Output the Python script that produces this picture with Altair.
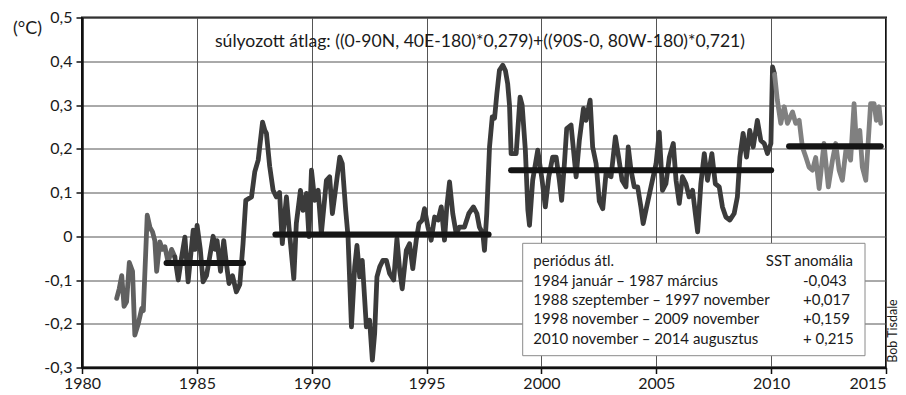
import altair as alt
import pandas as pd

# ---- data ----
years = [
    1981.51, 1981.62, 1981.73, 1981.83, 1981.94, 1982.06, 1982.2, 1982.3, 1982.45, 1982.6,
    1982.67, 1982.84, 1982.96, 1983.07, 1983.17, 1983.25, 1983.39, 1983.5, 1983.61, 1983.75,
    1983.9, 1984.04, 1984.19, 1984.33, 1984.48, 1984.62, 1984.84, 1984.93, 1985.01, 1985.15,
    1985.27, 1985.42, 1985.55, 1985.71, 1985.8, 1985.88, 1986.03, 1986.17, 1986.28, 1986.4,
    1986.55, 1986.72, 1986.87, 1987.01, 1987.13, 1987.38, 1987.52, 1987.67, 1987.86, 1987.96,
    1988.03, 1988.17, 1988.32, 1988.46, 1988.6, 1988.72, 1988.83, 1988.9, 1989.01, 1989.22,
    1989.33, 1989.51, 1989.62, 1989.77, 1989.88, 1989.99, 1990.13, 1990.28, 1990.42, 1990.64,
    1990.78, 1990.9, 1991.07, 1991.22, 1991.33, 1991.48, 1991.58, 1991.73, 1991.87, 1991.97,
    1992.09, 1992.2, 1992.38, 1992.52, 1992.64, 1992.74, 1992.84, 1992.96, 1993.1, 1993.25,
    1993.39, 1993.57, 1993.71, 1993.83, 1993.94, 1994.12, 1994.26, 1994.4, 1994.55, 1994.67,
    1994.81, 1994.91, 1995.06, 1995.2, 1995.35, 1995.5, 1995.64, 1995.78, 1995.88, 1996.0,
    1996.14, 1996.29, 1996.43, 1996.65, 1996.84, 1997.04, 1997.19, 1997.3, 1997.45, 1997.52,
    1997.62, 1997.74, 1997.86, 1997.96, 1998.06, 1998.17, 1998.32, 1998.43, 1998.53, 1998.61,
    1998.68, 1998.9, 1999.07, 1999.16, 1999.3, 1999.41, 1999.48, 1999.62, 1999.84, 2000.03,
    2000.17, 2000.32, 2000.49, 2000.64, 2000.78, 2000.88, 2001.0, 2001.1, 2001.29, 2001.51,
    2001.65, 2001.83, 2001.94, 2002.12, 2002.23, 2002.38, 2002.52, 2002.67, 2002.81, 2003.03,
    2003.22, 2003.36, 2003.51, 2003.68, 2003.78, 2003.9, 2004.04, 2004.19, 2004.33, 2004.43,
    2004.58, 2004.77, 2004.99, 2005.13, 2005.27, 2005.42, 2005.57, 2005.74, 2005.86, 2006.0,
    2006.14, 2006.29, 2006.43, 2006.58, 2006.7, 2006.8, 2006.94, 2007.09, 2007.23, 2007.42,
    2007.57, 2007.74, 2007.88, 2008.03, 2008.2, 2008.39, 2008.53, 2008.64, 2008.78, 2008.93,
    2009.07, 2009.22, 2009.4, 2009.55, 2009.7, 2009.84, 2009.99, 2010.06, 2010.15, 2010.27,
    2010.42, 2010.57, 2010.71, 2010.93, 2011.07, 2011.22, 2011.36, 2011.51, 2011.65, 2011.8,
    2011.94, 2012.09, 2012.3, 2012.49, 2012.67, 2012.81, 2012.96, 2013.1, 2013.27, 2013.46,
    2013.61, 2013.72, 2013.86, 2013.97, 2014.12, 2014.23, 2014.33, 2014.48, 2014.58, 2014.7,
    2014.77,
]
anomaly = [
    -0.142, -0.12, -0.09, -0.16, -0.15, -0.06, -0.08, -0.226, -0.2, -0.165,
    -0.17, 0.048, 0.02, 0.01, -0.01, -0.08, -0.013, -0.03, -0.024, -0.06,
    -0.03, -0.047, -0.1, -0.05, -0.002, -0.104, 0.014, -0.03, 0.025, -0.03,
    -0.104, -0.09, -0.05, 0.0, -0.03, -0.01, -0.08, -0.01, -0.06, -0.108,
    -0.09, -0.127, -0.11, -0.017, 0.082, 0.09, 0.147, 0.174, 0.261, 0.242,
    0.235, 0.16, 0.105, 0.09, 0.1, -0.017, 0.052, 0.09, 0.021, -0.097,
    0.029, 0.105, 0.059, 0.098, -0.001, 0.151, 0.082, 0.105, 0.006, 0.128,
    0.136, 0.052, 0.12, 0.181, 0.166, 0.059, 0.0, -0.207, -0.07, -0.021,
    -0.093, -0.055, -0.207, -0.192, -0.283, -0.222, -0.093, -0.07, -0.055, -0.055,
    -0.085, -0.1, -0.005, -0.078, -0.12, -0.032, -0.017, -0.074, -0.009, 0.029,
    0.037, 0.063, 0.021, -0.009, 0.044, 0.037, 0.067, -0.009, 0.067, 0.124,
    0.052, 0.006, 0.021, 0.021, 0.052, 0.067, 0.052, 0.021, 0.006, -0.032,
    0.052, 0.204, 0.273, 0.27, 0.326, 0.379, 0.391, 0.379, 0.349, 0.3,
    0.189, 0.189, 0.318, 0.3, 0.197, 0.06, 0.025, 0.128, 0.197, 0.128,
    0.067, 0.136, 0.181, 0.181, 0.128, 0.082, 0.166, 0.246, 0.254, 0.136,
    0.219, 0.292, 0.265, 0.311, 0.204, 0.166, 0.08, 0.063, 0.143, 0.136,
    0.227, 0.181, 0.128, 0.113, 0.204, 0.151, 0.113, 0.113, 0.067, 0.029,
    0.067, 0.113, 0.166, 0.238, 0.105, 0.12, 0.181, 0.212, 0.128, 0.075,
    0.136, 0.12, 0.09, 0.105, 0.052, 0.01, 0.12, 0.189, 0.128, 0.189,
    0.12, 0.113, 0.067, 0.044, 0.037, 0.052, 0.09, 0.181, 0.235, 0.181,
    0.242, 0.204, 0.265, 0.219, 0.212, 0.189, 0.212, 0.387, 0.37, 0.311,
    0.258, 0.296, 0.258, 0.284, 0.258, 0.265, 0.204, 0.181, 0.158, 0.151,
    0.18, 0.109, 0.212, 0.113, 0.174, 0.212, 0.151, 0.128, 0.204, 0.174,
    0.303, 0.204, 0.242, 0.158, 0.128, 0.219, 0.303, 0.303, 0.265, 0.296,
    0.258,
]

# colour segments of the series (start, end, colour)
seg_names = ["early", "main", "late"]
seg_from = [1981.0, 1984.04, 2010.15]
seg_to = [1984.04, 2010.15, 2015.0]
seg_colors = ["#606060", "#3b3b3b", "#808080"]

# period averages (as drawn)
per_start = [1983.68, 1988.42, 1998.68, 2010.78]
per_end = [1987.01, 1997.70, 2010.0, 2014.77]
per_value = [-0.061, 0.004, 0.151, 0.206]

x_ticks = [1980, 1985, 1990, 1995, 2000, 2005, 2010, 2015]
y_ticks = [-0.3, -0.2, -0.1, 0.0, 0.1, 0.2, 0.3, 0.4, 0.5]

title_text = "súlyozott átlag: ((0-90N, 40E-180)*0,279)+((90S-0, 80W-180)*0,721)"
unit_text = "(°C)"
credit_text = "Bob Tisdale"
legend_left = [
    "periódus átl.",
    "1984 január – 1987 március",
    "1988 szeptember – 1997 november",
    "1998 november – 2009 november",
    "2010 november – 2014 augusztus",
]
legend_right = ["SST anomália", "-0,043", "+0,017", "+0,159", "+ 0,215"]

# ---- build tables ----
rows = []
for t, v in zip(years, anomaly):
    for name, a, b in zip(seg_names, seg_from, seg_to):
        if a <= t <= b:
            rows.append({"t": t, "v": v, "seg": name})
series = pd.DataFrame(rows)
periods = pd.DataFrame({"s": per_start, "e": per_end, "v": per_value})

W, H = 804, 350
FONT = "Lato"
TXT = "#1a1a1a"

xscale = alt.Scale(domain=[1980, 2015], nice=False, zero=False)
yscale = alt.Scale(domain=[-0.3, 0.5], nice=False, zero=False)

xaxis = alt.Axis(
    values=x_ticks, format="d", title=None, grid=True,
    gridColor="#555555", gridWidth=1,
    tickColor="#111111", tickSize=6, tickWidth=1.5,
    domainColor="#111111", domainWidth=2.5,
    labelFont=FONT, labelFontSize=16, labelColor=TXT, labelPadding=2,
    labelAlign={"condition": {"test": "datum.value >= 2015", "value": "right"}, "value": "center"},
)
yaxis = alt.Axis(
    values=y_ticks, title=None, grid=True,
    gridColor="#555555", gridWidth=1,
    tickColor="#111111", tickSize=6, tickWidth=1.5,
    domainColor="#111111", domainWidth=2.5,
    labelFont=FONT, labelFontSize=16, labelColor=TXT, labelPadding=4,
    labelExpr="abs(datum.value) < 1e-9 ? '0' : (datum.value < 0 ? '-' : '') + replace(format(abs(datum.value), '.1f'), '.', ',')",
)

line = alt.Chart(series).mark_line(strokeWidth=4.8, strokeJoin="round", strokeCap="round").encode(
    x=alt.X("t:Q", scale=xscale, axis=xaxis),
    y=alt.Y("v:Q", scale=yscale, axis=yaxis),
    color=alt.Color("seg:N", scale=alt.Scale(domain=seg_names, range=seg_colors), legend=None),
    detail="seg:N",
)

bars = alt.Chart(periods).mark_rule(color="#151515", strokeWidth=6, strokeCap="round").encode(
    x="s:Q", x2="e:Q", y="v:Q",
)

box = alt.Chart(pd.DataFrame({"k": [0]})).mark_rect(
    fill="white", stroke="#8a8a8a", strokeWidth=1
).encode(x=alt.value(440.7), x2=alt.value(783), y=alt.value(225.8), y2=alt.value(338.2))


def label(txt, x, y, size, align="left", angle=0):
    return alt.Chart(pd.DataFrame({"txt": [txt]})).mark_text(
        align=align, baseline="middle", fontSize=size, font=FONT, color=TXT, angle=angle
    ).encode(text="txt:N", x=alt.value(x), y=alt.value(y))


layers = [line, bars, box,
          label(title_text, 398, 24.5, 17.6, align="center"),
          label(unit_text, -54.5, 11.5, 18, align="center"),
          label(credit_text, 810.5, 313.5, 12.5, align="center", angle=270)]

row_y = [243.2, 263.2, 282.5, 301.8, 321.5]
for i, (lt, rt) in enumerate(zip(legend_left, legend_right)):
    layers.append(label(lt, 451.3, row_y[i], 15))
    if i == 0:
        layers.append(label(rt, 771, row_y[i], 15, align="right"))
    else:
        layers.append(label(rt, 721, row_y[i], 15))

chart = alt.layer(*layers).properties(
    width=W, height=H,
    autosize=alt.AutoSizeParams(type="none"),
    padding={"left": 74, "top": 9.5, "right": 12, "bottom": 27},
).configure_view(stroke="#111111", strokeWidth=2)

chart.save("out.html", embed_options={"renderer": "svg", "actions": False})
